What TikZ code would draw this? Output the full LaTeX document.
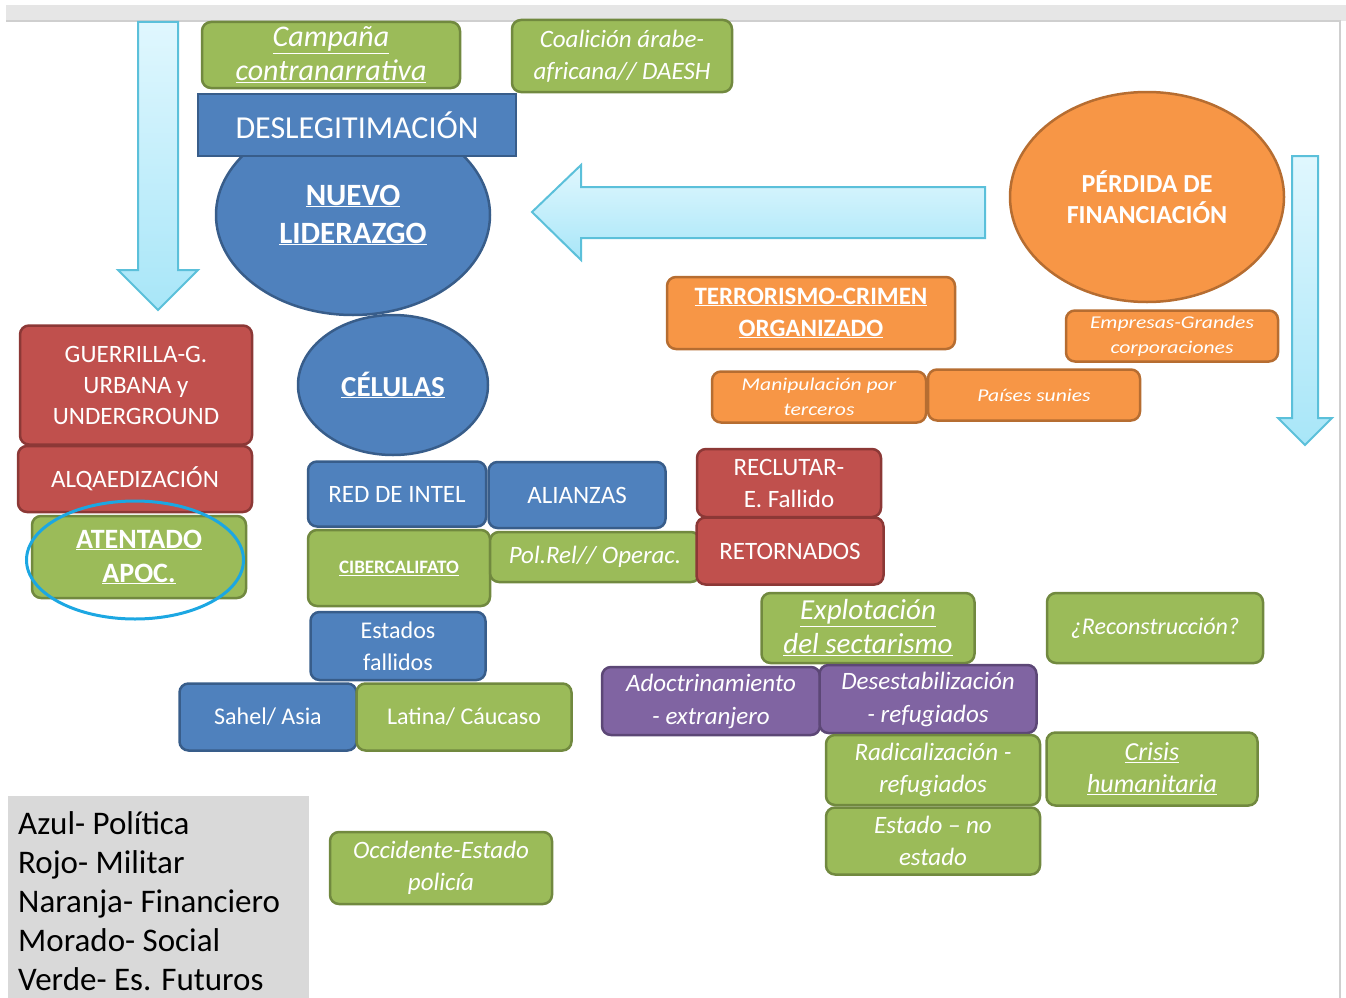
\documentclass[tikz,border=0pt]{standalone}
\usepackage{fontspec}
\setmainfont{Carlito}
\newfontfamily\widefont[FakeStretch=1.2]{Carlito}
\usepackage{tikz}
\usetikzlibrary{shapes.geometric}

\definecolor{vgreen}{HTML}{9BBB59}
\definecolor{vgreenline}{HTML}{71893F}
\definecolor{vblue}{HTML}{4F81BD}
\definecolor{vblueline}{HTML}{385D8A}
\definecolor{vred}{HTML}{C0504D}
\definecolor{vredline}{HTML}{8C3836}
\definecolor{vorange}{HTML}{F79646}
\definecolor{vorangeline}{HTML}{B66D31}
\definecolor{vpurple}{HTML}{8064A2}
\definecolor{vpurpleline}{HTML}{5C4776}
\definecolor{arrowtop}{HTML}{E0F7FE}
\definecolor{arrowbot}{HTML}{A8E6F8}
\definecolor{arrowline}{HTML}{5BC0DA}
\definecolor{ringblue}{HTML}{1CA7E2}
\definecolor{bargray}{HTML}{E6E6E6}
\definecolor{framegray}{HTML}{CFCFCF}
\definecolor{legendgray}{HTML}{D9D9D9}

\newcommand\fsz[2]{\fontsize{#1}{#2}\selectfont}

\begin{document}
\begin{tikzpicture}[
        x=1pt, y=-1pt,
        box/.style={rectangle, rounded corners=9pt, line width=2.5pt, text=white, align=center, inner sep=0pt},
        greenbox/.style={box, fill=vgreen, draw=vgreenline},
        bluebox/.style={box, fill=vblue, draw=vblueline},
        redbox/.style={box, fill=vred, draw=vredline},
        orangebox/.style={box, fill=vorange, draw=vorangeline},
        purplebox/.style={box, fill=vpurple, draw=vpurpleline},
        oval/.style={ellipse, line width=2.5pt, text=white, align=center, inner sep=0pt},
        flowarrow/.style={draw=arrowline, line width=2pt, top color=arrowtop, bottom color=arrowbot},
        ]
        \useasboundingbox (0,0) rectangle (1346,998);
        %Frame
        \fill[bargray] (6,5) rectangle (1346,21);
        \draw[framegray, line width=1.5pt] (6,21) -- (1340,21) -- (1340,998);

        %Arrows
        \path[flowarrow] (138,22) -- (178,22) -- (178,270) -- (198,270) -- (158,310)
            -- (118,270) -- (138,270) -- cycle;
        \path[flowarrow] (532,212) -- (581,165) -- (581,187) -- (985,187) -- (985,238)
            -- (581,238) -- (581,260) -- cycle;
        \path[flowarrow] (1292,156) -- (1318,156) -- (1318,418) -- (1332,418) -- (1305,445)
            -- (1278,418) -- (1292,418) -- cycle;

        %Nodes
        \node[oval, fill=vblue, draw=vblueline, minimum width=274pt, minimum height=200pt,
            font=\fsz{31}{38}\bfseries] (nuevo) at (353,215)
            {\underline{NUEVO}\\\underline{LIDERAZGO}};
        \node[greenbox, minimum width=258pt, minimum height=66pt, font=\fsz{30}{34}\itshape] (camp) at (331,55)
            {\underline{Campaña}\\\underline{contranarrativa}};
        \node[greenbox, minimum width=220pt, minimum height=72pt, font=\fsz{25}{32}\itshape] (coal) at (622,56)
            {Coalición árabe-\\africana// DAESH};
        \node[bluebox, rounded corners=0pt, minimum width=318pt, minimum height=62pt, font=\fsz{32}{38}] (desleg) at (357,125)
            {DESLEGITIMACIÓN};

        \node[oval, fill=vorange, draw=vorangeline, minimum width=274pt, minimum height=210pt,
            font=\fsz{26}{31}\bfseries] (perdida) at (1147,197)
            {PÉRDIDA DE\\FINANCIACIÓN};
        \node[orangebox, minimum width=288pt, minimum height=72pt, font=\fsz{25}{32}\bfseries] (terror) at (811,313)
            {\underline{TERRORISMO-CRIMEN}\\\underline{ORGANIZADO}};
        \node[orangebox, minimum width=212pt, minimum height=51pt, font=\fsz{18}{25}\widefont\itshape] (empresas) at (1172,336)
            {Empresas-Grandes\\corporaciones};
        \node[orangebox, minimum width=214pt, minimum height=51pt, font=\fsz{18}{25}\widefont\itshape] (manip) at (819,397)
            {Manipulación por\\terceros};
        \node[orangebox, minimum width=212pt, minimum height=51pt, font=\fsz{18}{25}\widefont\itshape] (paises) at (1034,395)
            {Países sunies};

        \node[redbox, minimum width=232pt, minimum height=119pt, font=\fsz{25}{31}] (guerr) at (136,385)
            {GUERRILLA-G.\\URBANA y\\UNDERGROUND};
        \node[redbox, minimum width=234pt, minimum height=66pt, font=\fsz{25}{31}] (alqa) at (135,479)
            {ALQAEDIZACIÓN};
        \node[greenbox, minimum width=214pt, minimum height=82pt, font=\fsz{28}{34}\bfseries] (atent) at (139,557)
            {\underline{ATENTADO}\\\underline{APOC.}};
        \node[ellipse, draw=ringblue, line width=3pt, minimum width=217pt, minimum height=118pt] (ring) at (135,560) {};

        \node[oval, fill=vblue, draw=vblueline, minimum width=190pt, minimum height=140pt,
            font=\fsz{29}{34}\bfseries] (celulas) at (393,385)
            {\underline{CÉLULAS}};
        \node[bluebox, minimum width=178pt, minimum height=65pt, font=\fsz{25}{31}] (redint) at (397,494)
            {RED DE INTEL};
        \node[bluebox, minimum width=177pt, minimum height=66pt, font=\fsz{25}{31}] (alian) at (577,495)
            {ALIANZAS};
        \node[greenbox, minimum width=182pt, minimum height=76pt, font=\fsz{19}{24}\bfseries] (ciber) at (399,568)
            {\underline{CIBERCALIFATO}};
        \node[greenbox, minimum width=210pt, minimum height=50pt, font=\fsz{25}{31}\itshape] (polrel) at (595,557)
            {Pol.Rel// Operac.};
        \node[redbox, minimum width=184pt, minimum height=68pt, font=\fsz{25}{32}] (reclut) at (789,483)
            {RECLUTAR-\\E. Fallido};
        \node[redbox, minimum width=187pt, minimum height=67pt, font=\fsz{25}{31}] (retorn) at (790,551)
            {RETORNADOS};
        \node[bluebox, minimum width=175pt, minimum height=68pt, font=\fsz{24}{32}] (estfall) at (398,646)
            {Estados\\fallidos};
        \node[bluebox, minimum width=177pt, minimum height=67pt, font=\fsz{24}{31}] (sahel) at (268,717)
            {Sahel/ Asia};
        \node[greenbox, minimum width=215pt, minimum height=67pt, font=\fsz{24}{31}] (latina) at (464,717)
            {Latina/ Cáucaso};

        \node[greenbox, minimum width=213pt, minimum height=70pt, font=\fsz{29}{34}\itshape] (explot) at (868,628)
            {\underline{Explotación}\\\underline{del sectarismo}};
        \node[greenbox, minimum width=216pt, minimum height=70pt, font=\fsz{24}{31}\itshape] (recons) at (1155,628)
            {¿Reconstrucción?};
        \node[purplebox, minimum width=218pt, minimum height=68pt, font=\fsz{25}{33}\itshape] (adoctr) at (711,701)
            {Adoctrinamiento\\- extranjero};
        \node[purplebox, minimum width=217pt, minimum height=68pt, font=\fsz{25}{33}\itshape] (desest) at (928,699)
            {Desestabilización\\- refugiados};
        \node[greenbox, minimum width=214pt, minimum height=70pt, font=\fsz{25}{32}\itshape] (radic) at (933,770)
            {Radicalización -\\refugiados};
        \node[greenbox, minimum width=211pt, minimum height=73pt, font=\fsz{26}{32}\itshape] (crisis) at (1152,769)
            {\underline{Crisis}\\\underline{humanitaria}};
        \node[greenbox, minimum width=214pt, minimum height=67pt, font=\fsz{25}{32}\itshape] (estado) at (933,841)
            {Estado – no\\estado};
        \node[greenbox, minimum width=222pt, minimum height=72pt, font=\fsz{25}{32}\itshape] (occid) at (441,868)
            {Occidente-Estado\\policía};

        %Legend
        \node[fill=legendgray, minimum width=301pt, minimum height=202pt, inner sep=0pt] (legend) at (158.5,897) {};
        \node[align=left, anchor=west, inner sep=0pt, font=\fsz{33}{39}] (legtext) at (18,901)
            {Azul- Política\\Rojo- Militar\\Naranja- Financiero\\Morado- Social\\Verde- Es. Futuros};
    \end{tikzpicture}
\end{document}
